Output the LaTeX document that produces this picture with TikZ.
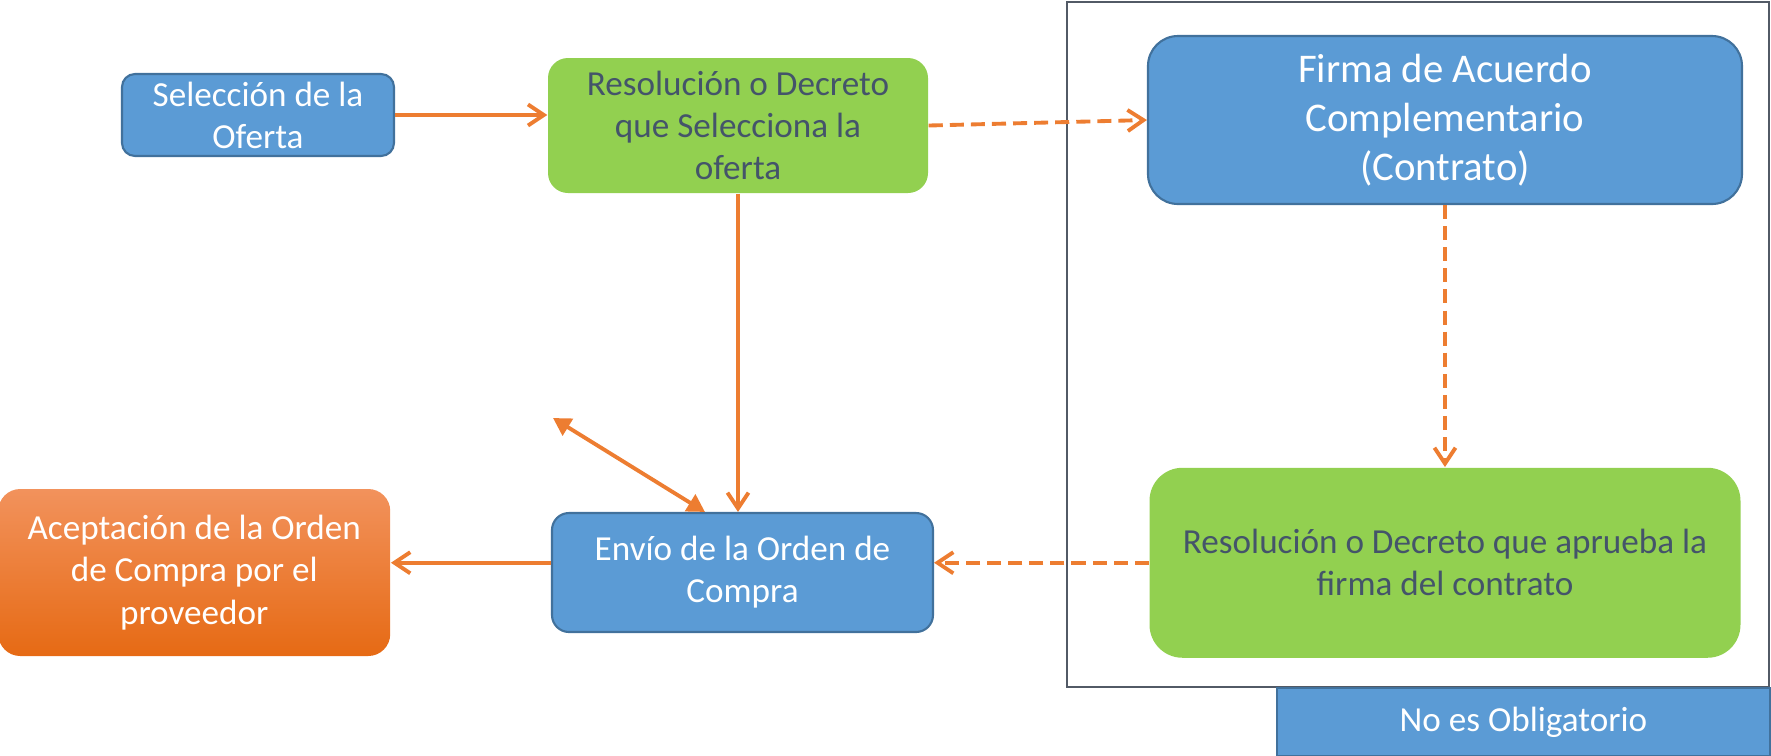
\documentclass[tikz,border=0pt]{standalone}
\usepackage{fontspec}
\setmainfont{Carlito}
\usepackage{xcolor}
\usepackage{tikz}
\usetikzlibrary{shapes.geometric, arrows.meta, positioning, calc}

\definecolor{azul}{HTML}{5B9BD5}
\definecolor{azulborde}{HTML}{41719C}
\definecolor{verde}{HTML}{92D050}
\definecolor{naranja}{HTML}{ED7D31}
\definecolor{textoosc}{HTML}{44546A}
\definecolor{marco}{HTML}{525A66}
\definecolor{naranjaclaro}{RGB}{242,146,92}
\definecolor{naranjaosc}{RGB}{230,106,20}

\begin{document}
\begin{tikzpicture}[
			node distance = 1cm,
			bluebox/.style = {rectangle, draw=azulborde, line width=0.6pt, fill=azul, text=white,
					align=center, inner sep=0pt, rounded corners=0.13cm, font=\fontsize{10}{12}\selectfont},
			greenbox/.style = {rectangle, fill=verde, text=textoosc,
					align=center, inner sep=0pt, rounded corners=0.2cm, font=\fontsize{10}{12}\selectfont},
			orangebox/.style = {rectangle, top color=naranjaclaro, bottom color=naranjaosc, text=white,
					align=center, inner sep=0pt, rounded corners=0.22cm, font=\fontsize{10}{12}\selectfont},
			frame/.style = {rectangle, draw=marco, line width=0.6pt, inner sep=0pt, outer sep=0pt},
			line/.style = {draw=naranja, line width=1.1pt, -{Straight Barb[length=4.5pt,width=6pt]}},
			dashline/.style = {line, dash pattern=on 4pt off 2pt},
			twoway/.style = {draw=naranja, line width=1.1pt,
					{Triangle[length=5pt,width=5.5pt]}-{Triangle[length=5pt,width=5.5pt]}},
		]
		\useasboundingbox (0,0) rectangle (17.71,-7.55);

		% Top row
		\node [bluebox, minimum width=2.72cm, minimum height=0.82cm] (seleccion) at (2.58,-1.15) {Selección de la\\Oferta};
		\node [greenbox, minimum width=3.80cm, minimum height=1.35cm] (resolucion) at (7.38,-1.255) {Resolución o Decreto\\que Selecciona la\\oferta};

		% Optional group
		\node [frame, minimum width=7.02cm, minimum height=6.85cm] (grupo) at (14.18,-3.445) {};
		\node [bluebox, minimum width=5.94cm, minimum height=1.68cm, rounded corners=0.3cm,
			font=\fontsize{11.6}{13.9}\selectfont] (firma) at (14.45,-1.20) {Firma de Acuerdo\\Complementario\\(Contrato)};
		\node [greenbox, minimum width=5.91cm, minimum height=1.90cm, rounded corners=0.33cm,
			below=2.62cm of firma] (aprueba) {Resolución o Decreto que aprueba la\\firma del contrato};
		\node [bluebox, rounded corners=0pt, minimum width=4.93cm, minimum height=0.68cm,
			anchor=north east] (noobligatorio) at ([xshift=0.02cm]grupo.south east) {No es Obligatorio};

		% Bottom row
		\node [bluebox, minimum width=3.81cm, minimum height=1.19cm, rounded corners=0.17cm] (envio) at (7.425,-5.725) {Envío de la Orden de\\Compra};
		\node [orangebox, minimum width=3.92cm, minimum height=1.67cm, left=1.6cm of envio] (aceptacion) {Aceptación de la Orden\\de Compra por el\\proveedor};
		\coordinate (suelto) at (5.53,-4.18);

		% Draw arrows
		\path [line] (seleccion.east) -- (seleccion.east -| resolucion.west);
		\path [dashline] (resolucion.east) -- (firma.west);
		\path [dashline] (firma) -- (aprueba);
		\path [dashline] (aprueba.west) -- (aprueba.west -| envio.east);
		\path [line] (resolucion) -- (resolucion.south |- envio.north);
		\path [line] (envio.west |- aprueba.west) -- (aceptacion.east |- aprueba.west);
		\path [twoway] ($(envio.north)+(-0.375,0)$) -- (suelto);
	\end{tikzpicture}
\end{document}
